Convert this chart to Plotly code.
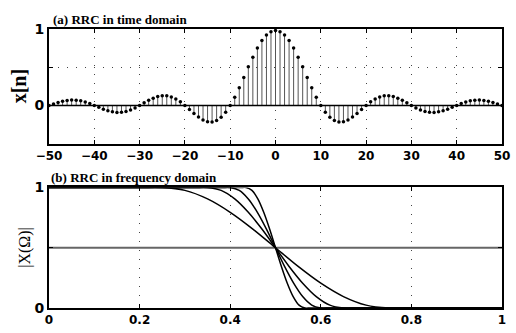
import plotly.graph_objects as go

# ---------------- data ----------------
n = list(range(-50, 51))
x_n = [0, 0.020, 0.039, 0.055, 0.066, 0.071, 0.069, 0.060, 0.045, 0.024,
       0, -0.025, -0.049, -0.070, -0.084, -0.091, -0.089, -0.078, -0.059, -0.032,
       0, 0.034, 0.067, 0.095, 0.116, 0.127, 0.126, 0.112, 0.085, 0.047,
       0, -0.052, -0.104, -0.152, -0.189, -0.212, -0.216, -0.198, -0.156, -0.089,
       0, 0.108, 0.232, 0.365, 0.505, 0.63, 0.75, 0.85, 0.92, 0.965,
       0.98,
       0.965, 0.92, 0.85, 0.75, 0.63, 0.505, 0.365, 0.232, 0.108, 0,
       -0.089, -0.156, -0.198, -0.216, -0.212, -0.189, -0.152, -0.104, -0.052, 0,
       0.047, 0.085, 0.112, 0.126, 0.127, 0.116, 0.095, 0.067, 0.034, 0,
       -0.032, -0.059, -0.078, -0.089, -0.091, -0.084, -0.070, -0.049, -0.025, 0,
       0.024, 0.045, 0.060, 0.069, 0.071, 0.066, 0.055, 0.039, 0.020, 0]

freq_y = [1, 1, 1, 0.976, 0.905, 0.794, 0.655, 0.5, 0.345, 0.206, 0.095, 0.024, 0, 0, 0]
freq_x_a = [0, 0.20, 0.25, 0.30, 0.35, 0.40, 0.45, 0.50, 0.55, 0.60, 0.65, 0.70, 0.75, 0.80, 1]
freq_x_b = [0, 0.32, 0.35, 0.38, 0.41, 0.44, 0.47, 0.50, 0.53, 0.56, 0.59, 0.62, 0.65, 0.68, 1]
freq_x_c = [0, 0.38, 0.40, 0.42, 0.44, 0.46, 0.48, 0.50, 0.52, 0.54, 0.56, 0.58, 0.60, 0.62, 1]
freq_x_d = [0, 0.422, 0.435, 0.448, 0.461, 0.474, 0.487, 0.50, 0.513, 0.526, 0.539, 0.552, 0.565, 0.578, 1]
half_x = [0, 1]
half_y = [0.5, 0.5]

top_xticks = [-50, -40, -30, -20, -10, 0, 10, 20, 30, 40, 50]
top_yticks = [-0.5, 0, 0.5, 1]
top_ytext = ["", "0", "", "1"]
bot_xticks = [0, 0.2, 0.4, 0.6, 0.8, 1]
bot_xtext = ["0", "0.2", "0.4", "0.6", "0.8", "1"]
bot_yticks = [0, 0.5, 1]
bot_ytext = ["0", "", "1"]

# ---------------- figure ----------------
fig = go.Figure()

sx, sy = [], []
for k, v in zip(n, x_n):
    sx += [k, k, None]
    sy += [0, v, None]
fig.add_trace(go.Scatter(x=sx, y=sy, mode="lines", line=dict(color="#555555", width=1),
                         xaxis="x", yaxis="y", hoverinfo="skip"))
fig.add_trace(go.Scatter(x=[n[0], n[-1]], y=[0, 0], mode="lines",
                         line=dict(color="black", width=1.6), xaxis="x", yaxis="y"))
fig.add_trace(go.Scatter(x=n, y=x_n, mode="markers", marker=dict(color="black", size=3.5),
                         xaxis="x", yaxis="y", cliponaxis=False))

fig.add_trace(go.Scatter(x=half_x, y=half_y, mode="lines", line=dict(color="#666666", width=1.8),
                         xaxis="x2", yaxis="y2"))
for fx in (freq_x_a, freq_x_b, freq_x_c, freq_x_d):
    fig.add_trace(go.Scatter(x=fx, y=freq_y, mode="lines",
                             line=dict(color="black", width=1.5, shape="spline", smoothing=0.8),
                             xaxis="x2", yaxis="y2"))

tickfont_x = dict(family="DejaVu Sans", size=12, color="black", weight="bold")
tickfont_y = dict(family="DejaVu Sans", size=14, color="black", weight="bold")
common = dict(showline=True, linewidth=2, linecolor="black", mirror="allticks",
              ticks="inside", ticklen=4, tickwidth=1, tickcolor="black",
              zeroline=False, showgrid=True, gridcolor="#444444", gridwidth=1,
              griddash="1px,8px")

fig.update_layout(
    width=516, height=333,
    margin=dict(l=49, r=6, t=29, b=24),
    paper_bgcolor="white", plot_bgcolor="white",
    showlegend=False,
    xaxis=dict(domain=[0, 1], anchor="y", range=[-50, 50], tickvals=top_xticks,
               tickfont=tickfont_x, **common),
    yaxis=dict(domain=[0.589, 1], anchor="x", range=[-0.5, 1], tickvals=top_yticks,
               ticktext=top_ytext, tickfont=tickfont_y, **common),
    xaxis2=dict(domain=[0, 1], anchor="y2", range=[0, 1], tickvals=bot_xticks,
                ticktext=bot_xtext, tickfont=tickfont_x, **common),
    yaxis2=dict(domain=[0, 0.432], anchor="x2", range=[0, 1], tickvals=bot_yticks,
                ticktext=bot_ytext, tickfont=tickfont_y, **common),
    annotations=[
        dict(text="(a) RRC in time domain", xref="paper", yref="paper", x=0, y=1,
             xanchor="left", yanchor="bottom", xshift=2, yshift=0, showarrow=False,
             font=dict(family="Liberation Serif", size=13, color="black", weight="bold")),
        dict(text="(b) RRC in frequency domain", xref="paper", yref="paper", x=0, y=0.432,
             xanchor="left", yanchor="bottom", xshift=0, yshift=0, showarrow=False,
             font=dict(family="Liberation Serif", size=13, color="black", weight="bold")),
        dict(text="x[n]", xref="paper", yref="paper", x=0, y=0.589 + 0.411 / 2,
             xanchor="center", yanchor="middle", xshift=-30, textangle=-90, showarrow=False,
             font=dict(family="Liberation Serif", size=20, color="black", weight="bold")),
        dict(text="|X(Ω)|", xref="paper", yref="paper", x=0, y=0.216,
             xanchor="center", yanchor="middle", xshift=-24, textangle=-90, showarrow=False,
             font=dict(family="Liberation Serif", size=16, color="black")),
    ],
)

fig.write_html("out.html")
